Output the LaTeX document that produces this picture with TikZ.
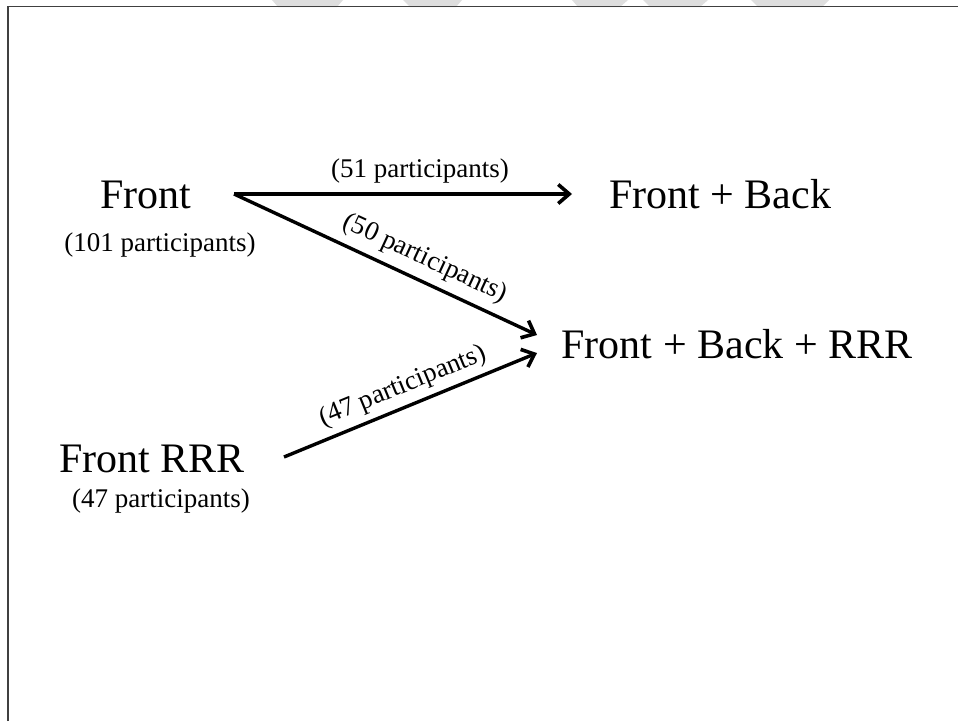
\documentclass[tikz,border=0pt]{standalone}
\usepackage{fontspec}
\setmainfont{Liberation Serif}
\usetikzlibrary{arrows.meta}
\tikzset{
  big/.style={font=\fontsize{42}{48}\selectfont, inner sep=0pt, anchor=base},
  small/.style={font=\fontsize{27}{32}\selectfont, inner sep=0pt, anchor=base},
  lab/.style={font=\fontsize{27}{32}\selectfont, inner sep=0pt},
  arr/.style={line width=3.4pt, -{Straight Barb[length=11pt,width=19pt,line width=3.6pt]}},
  frame/.style={draw=black!75, line width=1.3pt},
  wmark/.style={fill=black!13, draw=none}
}
\begin{document}
\begin{tikzpicture}[x=1pt,y=-1pt]
\useasboundingbox (0,0) rectangle (958,721);
\fill[white] (0,0) rectangle (958,721);
% faint watermark pieces at the top edge
\fill[wmark] (272,0) -- (343,0) -- (337,7) -- (278,7) -- cycle;
\fill[wmark] (403,0) -- (462,0) -- (456,7) -- (410,7) -- cycle;
\fill[wmark] (572,0) -- (628,0) -- (620,7) -- (578,7) -- cycle;
\fill[wmark] (643,0) -- (708,0) -- (700,7) -- (650,7) -- cycle;
\fill[wmark] (751,0) -- (829,0) -- (822,7) -- (758,7) -- cycle;
% frame
\draw[frame] (8,721) -- (8,6.5) -- (958,6.5);
% texts
\node[big] (front) at (146,208) {Front};
\node[small] (frontn) at (160,251) {(101 participants)};
\node[big] (fb) at (720,208) {Front + Back};
\node[big] (fbr) at (737,358) {Front + Back + RRR};
\node[big] (frrr) at (152,472) {Front RRR};
\node[small] (frrrn) at (161,507) {(47 participants)};
% arrow ends
\coordinate (fo) at (234,194);
\coordinate (fbin) at (572,194);
\coordinate (fbrinA) at (537,335);
\coordinate (fbrinB) at (537,353);
\coordinate (rro) at (284,457);
% arrows
\draw[arr] (fo) -- node[lab, pos=0.55, above=9pt] (l51) {(51 participants)} (fbin);
\draw[arr] (fo) -- node[lab, pos=0.6, sloped, above=8pt] (l50) {(50 participants)} (fbrinA);
\draw[arr] (rro) -- node[lab, pos=0.5, sloped, above=6pt] (l47) {(47 participants)} (fbrinB);
\end{tikzpicture}
\end{document}
